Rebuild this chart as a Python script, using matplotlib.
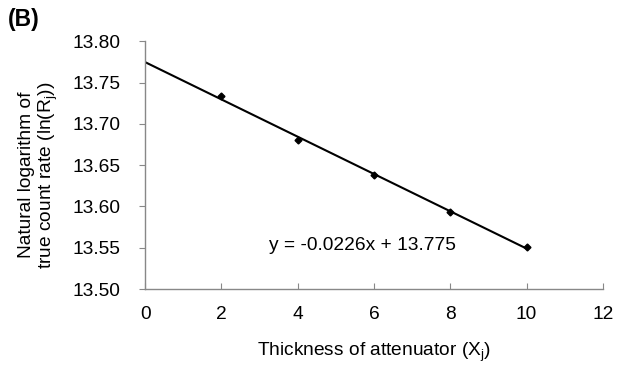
import numpy as np
import matplotlib.pyplot as plt

plt.rcParams['font.family'] = ['Liberation Sans', 'DejaVu Sans']

# measured points
thickness = [2, 4, 6, 8, 10]
ln_rate = [13.734, 13.681, 13.638, 13.593, 13.551]

# trendline from the chart
slope = -0.0226
intercept = 13.775
fit_x = np.array([0, 10])

fig = plt.figure(figsize=(6.28, 3.67), dpi=100)
ax = fig.add_axes([0.231, 0.2125, 0.729, 0.6745])

ax.plot(fit_x, slope * fit_x + intercept, color='black', lw=1.5)
ax.plot(thickness, ln_rate, linestyle='none', marker='D', markersize=3.5, color='black')

ax.set_xlim(0, 12)
ax.set_ylim(13.50, 13.80)
ax.set_xticks(range(0, 13, 2))
ax.set_yticks(np.arange(13.50, 13.801, 0.05))
ax.set_yticklabels([f'{v:.2f}' for v in np.arange(13.50, 13.801, 0.05)])

for s in ['top', 'right']:
    ax.spines[s].set_visible(False)
for s in ['left', 'bottom']:
    ax.spines[s].set_color('#888888')
    ax.spines[s].set_linewidth(1)

ax.tick_params(axis='y', direction='out', length=4, color='#888888', labelsize=13.8, pad=14)
ax.tick_params(axis='x', direction='in', length=4, color='#888888', labelsize=13.8, pad=12)

ax.text(5.7, 13.553, 'y = -0.0226x + 13.775', ha='center', va='center', fontsize=13.8)

ax.set_xlabel('Thickness of attenuator (X$_\\mathregular{j}$)', fontsize=13.8, va='center')
ax.xaxis.set_label_coords(0.5, -0.255)
ax.set_ylabel('Natural logarithm of\ntrue count rate (ln(R$_\\mathregular{j}$))', fontsize=13.8,
              va='center', linespacing=1.1)
ax.yaxis.set_label_coords(-0.2325, 0.46)

fig.text(0.013, 0.948, '(B)', fontsize=16.5, fontweight='bold', va='center')

fig.savefig('out.png', dpi=100)
